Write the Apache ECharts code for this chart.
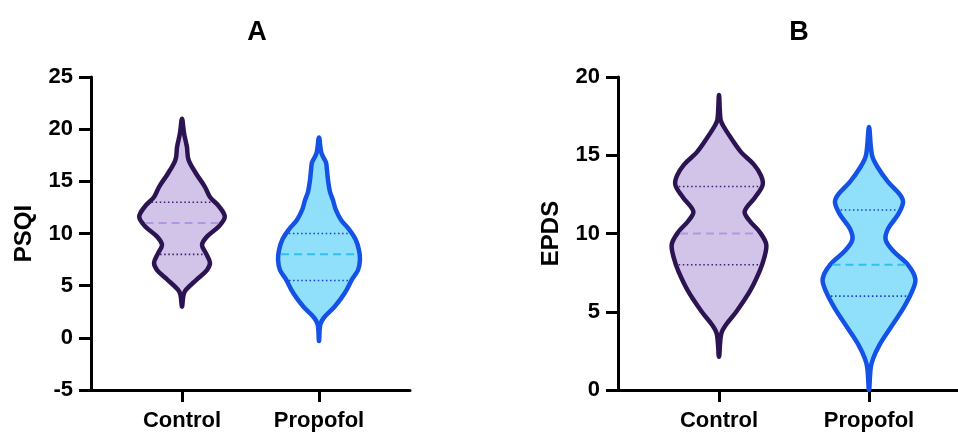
<!DOCTYPE html>
<html>
<head>
<meta charset="utf-8">
<script src="https://cdn.jsdelivr.net/npm/echarts@6/dist/echarts.min.js"></script>
<style>
  html, body { margin: 0; padding: 0; background: #fff; }
  #main { width: 958px; height: 434px; }
</style>
</head>
<body>
<div id="main"></div>
<script>
// groups on the x axis
var groups = ['Control', 'Propofol'];

// A: PSQI violin outlines (value, half width as fraction of group spacing)
var psqiControlY = [3, 4.1, 4.6, 5.6, 6.5, 7.2, 8.1, 8.9, 9.7, 10.7, 11.6, 12.6, 13.5, 14.5, 15.8, 17.1, 18.3, 19.6, 21];
var psqiControlW = [0, 0.011, 0.029, 0.109, 0.182, 0.204, 0.175, 0.146, 0.182, 0.27, 0.312, 0.27, 0.204, 0.166, 0.1, 0.047, 0.036, 0.015, 0];
var psqiPropofolY = [-0.3, 1.25, 1.9, 3.0, 4.3, 5.6, 6.5, 7.5, 8.4, 9.4, 10.4, 11.3, 12.3, 13.2, 14.0, 15.1, 16.1, 16.8, 17.7, 19.2];
var psqiPropofolW = [0, 0.009, 0.034, 0.115, 0.188, 0.241, 0.285, 0.299, 0.292, 0.268, 0.219, 0.161, 0.122, 0.102, 0.08, 0.066, 0.058, 0.051, 0.018, 0];
// quartiles: Q1, median, Q3
var psqiControlQ = [8, 11, 13];
var psqiPropofolQ = [5.5, 8, 10];

// B: EPDS violin outlines
var epdsControlY = [2.13, 3.6, 4.2, 5.0, 6.3, 7.6, 8.4, 9.3, 10.1, 10.8, 11.4, 12.3, 13.1, 13.7, 14.4, 15.2, 16.1, 16.9, 17.3, 18.85];
var epdsControlW = [0, 0.015, 0.049, 0.115, 0.205, 0.271, 0.3, 0.315, 0.271, 0.205, 0.171, 0.24, 0.291, 0.28, 0.233, 0.147, 0.08, 0.027, 0.01, 0];
var epdsPropofolY = [0, 1.4, 2.0, 2.9, 3.9, 5.2, 6.3, 7.1, 8.0, 8.9, 9.6, 10.3, 11.2, 12.0, 12.5, 13.3, 14.2, 15.0, 16.8];
var epdsPropofolW = [0, 0.011, 0.027, 0.071, 0.138, 0.227, 0.287, 0.309, 0.26, 0.16, 0.111, 0.127, 0.193, 0.227, 0.205, 0.127, 0.06, 0.02, 0];
var epdsControlQ = [8, 10, 13];
var epdsPropofolQ = [6, 8, 11.5];

// y ranges
var psqiRange = [-5, 25];
var epdsRange = [0, 20];

var colors = {
  Control: { fill: '#d2c3e8', line: '#2c1453', median: '#b397de', quart: '#3b2270' },
  Propofol: { fill: '#90e0fb', line: '#1452e6', median: '#2fc0f0', quart: '#1b3fcc' }
};

function widthAt(ys, ws, v) {
  for (var i = 0; i < ys.length - 1; i++) {
    if (v >= ys[i] && v <= ys[i + 1]) {
      var t = (v - ys[i]) / (ys[i + 1] - ys[i]);
      return ws[i] + t * (ws[i + 1] - ws[i]);
    }
  }
  return 0;
}

function violinSeries(xIdx, yIdx, shapes) {
  return {
    type: 'custom',
    xAxisIndex: xIdx,
    yAxisIndex: yIdx,
    data: [[0], [1]],
    clip: false,
    renderItem: function (params, api) {
      var idx = api.value(0);
      var s = shapes[idx];
      var c = colors[groups[idx]];
      var band = api.size([1, 0])[0];
      var right = [], left = [];
      for (var i = 0; i < s.y.length; i++) {
        var p = api.coord([idx, s.y[i]]);
        var hw = s.w[i] * band;
        right.push([p[0] + hw, p[1]]);
        if (i > 0 && i < s.y.length - 1) left.unshift([p[0] - hw, p[1]]);
      }
      var pts = right.concat(left);
      var children = [{
        type: 'polygon',
        shape: { points: pts, smooth: 0.35 },
        style: { fill: c.fill, stroke: c.line, lineWidth: 4.5, lineJoin: 'round' }
      }];
      for (var q = 0; q < s.q.length; q++) {
        var pq = api.coord([idx, s.q[q]]);
        var w = widthAt(s.y, s.w, s.q[q]) * band - 2.5;
        var isMed = q === 1;
        children.push({
          type: 'line',
          shape: { x1: pq[0] - w, y1: pq[1], x2: pq[0] + w, y2: pq[1] },
          style: {
            stroke: isMed ? c.median : c.quart,
            lineWidth: isMed ? 2 : 1.6,
            lineDash: isMed ? [8, 5] : [1.5, 2.6]
          }
        });
      }
      return { type: 'group', children: children };
    }
  };
}

var labelFont = { color: '#000', fontWeight: 'bold', fontFamily: 'Liberation Sans, Arial, sans-serif' };

function frameY(grid, range, name) {
  return {
    gridIndex: grid, type: 'value', min: range[0], max: range[1], interval: 5,
    axisLine: { show: true, onZero: false, lineStyle: { color: '#000', width: 3 } },
    axisTick: { show: true, length: 12, lineStyle: { color: '#000', width: 3 } },
    axisLabel: Object.assign({ fontSize: 22, margin: 18 }, labelFont),
    splitLine: { show: false },
    name: name, nameLocation: 'middle', nameGap: 55,
    nameTextStyle: Object.assign({ fontSize: 24 }, labelFont)
  };
}
function hiddenY(grid, range) {
  return { gridIndex: grid, type: 'value', min: range[0], max: range[1], show: false };
}
function frameX(grid) {
  return {
    gridIndex: grid, type: 'value', min: 0, max: 1,
    axisLine: { show: true, onZero: false, lineStyle: { color: '#000', width: 3 } },
    axisTick: { show: false }, axisLabel: { show: false }, splitLine: { show: false }
  };
}
function catX(grid) {
  return {
    gridIndex: grid, type: 'category', data: groups, boundaryGap: true,
    axisLine: { show: false, onZero: false },
    axisTick: { show: true, alignWithLabel: true, length: 12, lineStyle: { color: '#000', width: 3 } },
    axisLabel: Object.assign({ fontSize: 22, margin: 20 }, labelFont),
    splitLine: { show: false }
  };
}

var chart = echarts.init(document.getElementById('main'));
chart.setOption({
  animation: false,
  backgroundColor: '#fff',
  title: [
    { text: 'A', left: 252, top: 14, textAlign: 'center', textStyle: Object.assign({ fontSize: 27 }, labelFont) },
    { text: 'B', left: 794, top: 14, textAlign: 'center', textStyle: Object.assign({ fontSize: 27 }, labelFont) }
  ],
  grid: [
    { left: 91, top: 77, width: 319, height: 313 },
    { left: 113.5, top: 77, width: 274, height: 313 },
    { left: 618, top: 77, width: 340, height: 313 },
    { left: 644, top: 77, width: 300, height: 313 }
  ],
  xAxis: [frameX(0), catX(1), frameX(2), catX(3)],
  yAxis: [frameY(0, psqiRange, 'PSQI'), hiddenY(1, psqiRange), frameY(2, epdsRange, 'EPDS'), hiddenY(3, epdsRange)],
  series: [
    violinSeries(1, 1, [
      { y: psqiControlY, w: psqiControlW, q: psqiControlQ },
      { y: psqiPropofolY, w: psqiPropofolW, q: psqiPropofolQ }
    ]),
    violinSeries(3, 3, [
      { y: epdsControlY, w: epdsControlW, q: epdsControlQ },
      { y: epdsPropofolY, w: epdsPropofolW, q: epdsPropofolQ }
    ])
  ]
});
</script>
</body>
</html>
